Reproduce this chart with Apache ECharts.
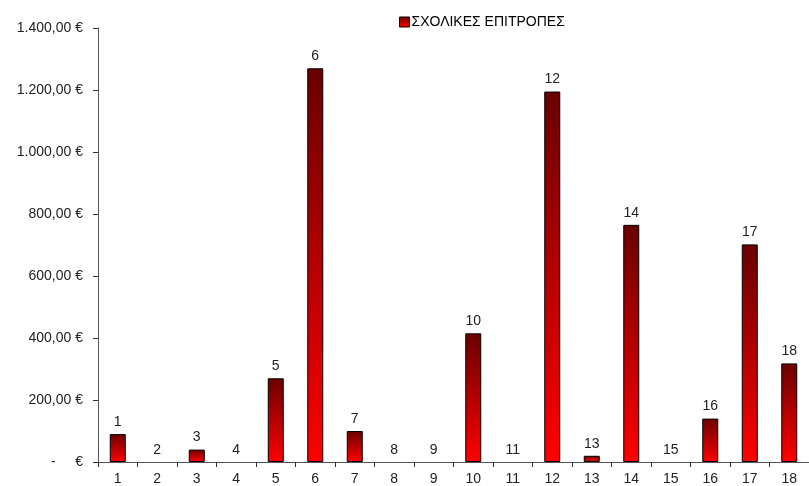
<!DOCTYPE html>
<html>
<head>
<meta charset="utf-8">
<script src="https://cdn.jsdelivr.net/npm/echarts@6/dist/echarts.min.js"></script>
<style>html,body{margin:0;padding:0;background:#fff;}#c{width:809px;height:486px;}</style>
</head>
<body>
<div id="c"></div>
<script>
const categories = ['1','2','3','4','5','6','7','8','9','10','11','12','13','14','15','16','17','18'];
const values = [90, 0, 40, 0, 270, 1270, 100, 0, 0, 415, 0, 1195, 20, 765, 0, 140, 702, 318];
const seriesName = 'ΣΧΟΛΙΚΕΣ ΕΠΙΤΡΟΠΕΣ';
const yTicks = [0, 200, 400, 600, 800, 1000, 1200, 1400];

const FONT = 'Liberation Sans, Arial, sans-serif';

function fmt(v) {
  if (v === 0) return '-     €';
  const parts = v.toFixed(2).split('.');
  const intPart = parts[0].replace(/\B(?=(\d{3})+(?!\d))/g, '.');
  return intPart + ',' + parts[1] + ' €';
}

const grad = new echarts.graphic.LinearGradient(0, 0, 0, 1, [
  {offset: 0, color: '#6a0000'},
  {offset: 1, color: '#ff0000'}
]);

const barData = values.map(function (v) {
  return v === 0 ? {value: v, itemStyle: {borderWidth: 0, color: 'rgba(0,0,0,0)'}} : {value: v};
});

const chart = echarts.init(document.getElementById('c'), null, {renderer: 'canvas'});
chart.setOption({
  animation: false,
  backgroundColor: '#fff',
  textStyle: {fontFamily: FONT},
  legend: {
    top: 10, left: 394,
    itemWidth: 10, itemHeight: 10, itemGap: 4,
    icon: 'rect',
    itemStyle: {color: grad, borderColor: '#000', borderWidth: 1},
    textStyle: {fontSize: 14, color: '#000', fontFamily: FONT, padding: [0,0,0,-3]},
    data: [seriesName]
  },
  grid: {left: 98, right: -9, top: 28, bottom: 24, containLabel: false},
  xAxis: {
    type: 'category',
    data: categories,
    axisLine: {lineStyle: {color: '#555', width: 1}},
    axisTick: {show: true, length: 5, lineStyle: {color: '#333'}},
    axisLabel: {fontSize: 14, color: '#222', margin: 10, fontFamily: FONT},
    splitLine: {show: false}
  },
  yAxis: {
    type: 'value',
    min: yTicks[0], max: yTicks[yTicks.length - 1], interval: 200,
    axisLine: {show: true, lineStyle: {color: '#555', width: 1}},
    axisTick: {show: true, length: 5, lineStyle: {color: '#333'}},
    axisLabel: {fontSize: 14, color: '#222', margin: 15, formatter: fmt, fontFamily: FONT},
    splitLine: {show: false}
  },
  series: [{
    name: seriesName,
    type: 'bar',
    data: barData,
    barWidth: 16,
    itemStyle: {color: grad, borderColor: '#000', borderWidth: 1},
    label: {
      show: true, position: 'top', distance: 5,
      fontSize: 14, color: '#222', fontFamily: FONT,
      formatter: function (p) { return p.name; }
    }
  }]
});
</script>
</body>
</html>
